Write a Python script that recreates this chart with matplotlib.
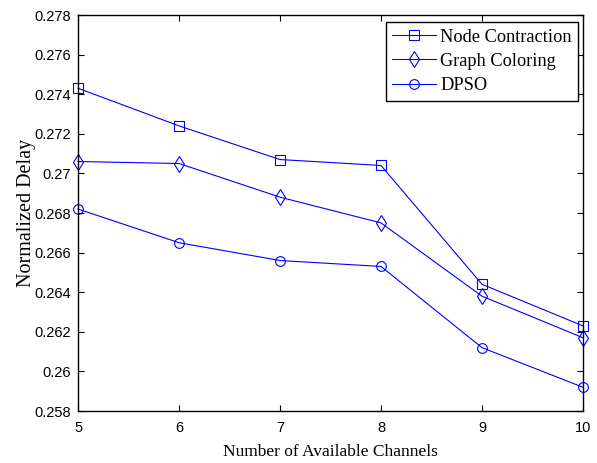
import numpy as np
import matplotlib.pyplot as plt

channels = [5, 6, 7, 8, 9, 10]
node_contraction = [0.2743, 0.2724, 0.2707, 0.2704, 0.2644, 0.2623]
graph_coloring = [0.2706, 0.2705, 0.2688, 0.2675, 0.2638, 0.2617]
dpso = [0.2682, 0.2665, 0.2656, 0.2653, 0.2612, 0.2592]

y_ticks = [0.258, 0.26, 0.262, 0.264, 0.266, 0.268, 0.27, 0.272, 0.274, 0.276, 0.278]
y_labels = ['0.258', '0.26', '0.262', '0.264', '0.266', '0.268', '0.27', '0.272', '0.274', '0.276', '0.278']

fig = plt.figure(figsize=(5.97, 4.63), dpi=100)
ax = fig.add_axes([0.1307, 0.1123, 0.8458, 0.8553])

kw = dict(color='blue', linewidth=0.8, markerfacecolor='none',
          markeredgecolor='blue', markeredgewidth=0.8, clip_on=False)
ax.plot(channels, node_contraction, marker='s', markersize=7, label='Node Contraction', **kw)
ax.plot(channels, graph_coloring, marker='d', markersize=8, label='Graph Coloring', **kw)
ax.plot(channels, dpso, marker='o', markersize=7, label='DPSO', **kw)

ax.set_xlim(5, 10)
ax.set_ylim(0.258, 0.278)
ax.set_xticks(channels)
ax.set_yticks(y_ticks)
ax.set_yticklabels(y_labels)
ax.tick_params(direction='in', top=True, right=True, length=4, width=0.8,
               labelsize=10.5)
ax.tick_params(axis='x', pad=7)
ax.tick_params(axis='y', pad=5)
for lab in ax.get_xticklabels() + ax.get_yticklabels():
    lab.set_family('Liberation Sans')
for sp in ax.spines.values():
    sp.set_linewidth(1.0)

ax.set_xlabel('Number of Available Channels', family='Liberation Serif', fontsize=12.5, labelpad=7)
ax.set_ylabel('Normalized Delay', family='Liberation Serif', fontsize=14.5, labelpad=-1)

leg = ax.legend(loc='upper right', prop={'family': 'Liberation Serif', 'size': 13.2},
                fancybox=False, edgecolor='black', framealpha=1,
                bbox_to_anchor=(0.99, 0.982),
                handlelength=2.4, labelspacing=0.4, borderpad=0.35, handletextpad=0.2,
                borderaxespad=0)
leg.get_frame().set_linewidth(1.0)

fig.savefig('out.png', dpi=100)
